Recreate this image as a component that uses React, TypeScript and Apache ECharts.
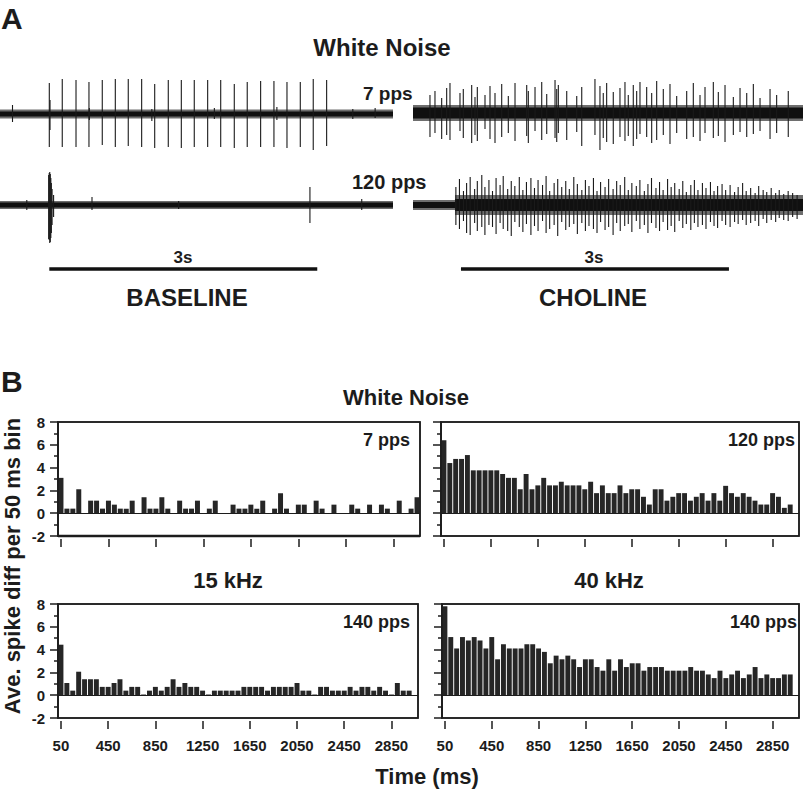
import React, { useEffect, useRef } from 'react';
import * as echarts from 'echarts';

// ---------- Panel B: histogram data (Ave. spike diff per 50 ms bin) ----------
const binLabels = [
  '50', '100', '150', '200', '250', '300', '350', '400', '450', '500',
  '550', '600', '650', '700', '750', '800', '850', '900', '950', '1000',
  '1050', '1100', '1150', '1200', '1250', '1300', '1350', '1400', '1450', '1500',
  '1550', '1600', '1650', '1700', '1750', '1800', '1850', '1900', '1950', '2000',
  '2050', '2100', '2150', '2200', '2250', '2300', '2350', '2400', '2450', '2500',
  '2550', '2600', '2650', '2700', '2750', '2800', '2850', '2900', '2950', '3000',
  '3050',
];

const whiteNoise7pps = [
  3.1, 0.4, 0.4, 2.1, 0, 1.1, 1.1, 0.4, 1.1, 0.75,
  0.4, 0.4, 1.1, 0, 1.4, 0.4, 0.4, 1.4, 0.4, 0,
  1.1, 0.4, 0.4, 1.1, 0, 0.4, 1.1, 0, 0, 0.75,
  0.4, 0.4, 0.75, 0.4, 1.1, 0, 0.4, 1.75, 0.4, 0,
  0.75, 0.75, 0, 1.1, 0.4, 0, 0.75, 0, 0, 0.75,
  0.4, 0, 0.75, 0, 0.75, 0.4, 0, 1.1, 0, 0.4,
  1.4,
];

const whiteNoise120pps = [
  6.4, 4.4, 4.76, 4.76, 5.1, 3.76, 3.76, 3.76, 3.76, 3.76,
  3.44, 3.1, 3.1, 2.1, 3.44, 2.1, 2.44, 3.1, 2.44, 2.44,
  2.76, 2.44, 2.44, 2.44, 2.1, 2.76, 1.76, 2.44, 1.76, 1.76,
  2.44, 1.76, 2.1, 2.1, 1.44, 0.76, 2.1, 2.1, 1.1, 1.44,
  1.76, 1.76, 1.1, 1.44, 1.76, 1.1, 1.76, 1.1, 2.4, 1.76,
  1.44, 1.76, 1.44, 1.1, 0.76, 0.76, 1.76, 1.44, 0.47, 0.76,
  0,
];

const tone15kHz140pps = [
  4.43, 1.07, 0.4, 2.06, 1.4, 1.4, 1.4, 0.73, 0.73, 1.07,
  1.4, 0.4, 0.73, 0.73, 0.06, 0.4, 0.73, 0.4, 0.73, 1.4,
  0.73, 1.07, 0.73, 0.73, 0.4, 0.06, 0.4, 0.4, 0.4, 0.4,
  0.4, 0.73, 0.73, 0.73, 0.73, 0.4, 0.73, 0.73, 0.73, 0.73,
  1.07, 0.4, 0.4, 0.06, 0.73, 0.73, 0.4, 0.4, 0.4, 0.73,
  0.4, 0.73, 0.73, 0.4, 0.73, 0.4, 0.06, 1.07, 0.4, 0.4,
  0,
];

const tone40kHz140pps = [
  7.8, 5.1, 4.1, 5.1, 4.8, 5.1, 4.8, 4.1, 5.1, 3.15,
  4.47, 4.1, 4.1, 4.1, 4.47, 4.47, 4.1, 3.8, 2.8, 3.47,
  3.15, 3.47, 3.15, 2.47, 3.15, 3.15, 2.47, 2.15, 3.15, 2.15,
  3.15, 2.47, 2.8, 2.8, 2.15, 2.47, 2.47, 2.47, 2.15, 2.15,
  2.15, 2.15, 2.47, 2.15, 2.15, 1.82, 1.5, 2.15, 1.5, 1.82,
  2.15, 1.5, 1.82, 2.47, 1.5, 1.82, 1.5, 1.5, 1.82, 1.82,
  0,
];

const xTickEvery = 8; // ticks at 50, 450, 850 ... 2850 ms

// ---------- Panel A: recorded traces (time ms, amplitude up, amplitude down) ----------
const baseline7Spikes = [
  [552, 31, 33], [697, 35, 33], [851, 34, 33], [996, 32, 33], [1145, 34, 31],
  [1291, 35, 33], [1436, 35, 32], [1586, 35, 33], [1732, 30, 34], [1884, 34, 33],
  [2030, 34, 34], [2175, 34, 33], [2325, 34, 33], [2471, 34, 33], [2623, 30, 34],
  [2768, 32, 33], [2918, 33, 33], [3067, 33, 33], [3213, 32, 34], [3362, 32, 33],
  [3507, 35, 36], [3657, 34, 32],
  [140, 9, 8], [560, 14, 16], [1000, 6, 6], [1700, 5, 7], [2400, 6, 5], [3100, 7, 6], [3950, 5, 5], [4200, 6, 4],
];
const baseline7Bands = [[0, 4400, 4.5, 2.6]];

const choline7Spikes = [
  [190, 18, 24], [246, 22, 20], [321, 15, 26], [377, 25, 22], [414, 30, 27],
  [526, 20, 18], [563, 24, 25], [657, 28, 30], [694, 16, 22], [720, 26, 28],
  [806, 18, 16], [862, 27, 26], [918, 20, 30], [993, 29, 24], [1067, 17, 20],
  [1142, 30, 28], [1273, 28, 23], [1291, 22, 30], [1366, 26, 18], [1441, 31, 27],
  [1497, 19, 21], [1590, 33, 25], [1609, 24, 29], [1627, 28, 20], [1721, 22, 27],
  [1833, 17, 19], [1889, 26, 33], [2037, 34, 22], [2093, 27, 37], [2130, 20, 25],
  [2168, 30, 29], [2242, 21, 31], [2317, 25, 24], [2373, 31, 28], [2410, 18, 23],
  [2466, 28, 33], [2504, 22, 26], [2541, 31, 21], [2616, 26, 24], [2672, 20, 30],
  [2728, 32, 27], [2802, 24, 22], [2877, 29, 31], [2952, 17, 20], [3064, 22, 26],
  [3138, 30, 24], [3213, 18, 28], [3269, 26, 20], [3362, 31, 25], [3418, 21, 23],
  [3493, 28, 29], [3586, 16, 22], [3661, 25, 19], [3736, 20, 24], [3810, 29, 21],
  [3885, 15, 18], [3997, 24, 26], [4071, 18, 20], [4201, 22, 24],
];
const choline7Bands = [[0, 4366, 8, 5.5]];

const baseline120Spikes = [
  [545, 30, 34], [551, 32, 35], [557, 33, 38], [563, 31, 37], [569, 27, 33], [575, 22, 28],
  [583, 16, 20], [600, 10, 12],
  [300, 5, 5], [1030, 8, 5], [2000, 4, 4], [3470, 18, 18], [4050, 6, 5],
];
const baseline120Bands = [[0, 4400, 4, 2.4]];

const choline120Spikes = [
  [480, 18, 20], [520, 26, 24], [565, 14, 16], [600, 22, 28], [640, 28, 30], [690, 16, 18],
  [720, 24, 26], [770, 30, 22], [805, 18, 30], [850, 25, 20], [890, 14, 22], [930, 27, 29],
  [975, 20, 18], [1010, 29, 24], [1060, 16, 26], [1100, 24, 31], [1140, 19, 17], [1190, 28, 22],
  [1230, 15, 27], [1270, 23, 19], [1320, 27, 30], [1360, 17, 21], [1400, 25, 26], [1450, 20, 16],
  [1490, 29, 28], [1530, 14, 24], [1580, 22, 20], [1620, 26, 31], [1665, 18, 17], [1710, 24, 25],
  [1750, 16, 22], [1800, 28, 19], [1840, 21, 29], [1890, 15, 18], [1930, 25, 26], [1970, 19, 21],
  [2020, 27, 24], [2060, 14, 28], [2100, 23, 17], [2150, 18, 25], [2190, 26, 22], [2240, 16, 30],
  [2280, 24, 18], [2320, 20, 26], [2370, 28, 21], [2410, 15, 19], [2450, 22, 27], [2500, 19, 16],
  [2540, 25, 24], [2590, 14, 20], [2630, 21, 28], [2670, 27, 18], [2720, 17, 23], [2760, 23, 26],
  [2800, 15, 17], [2850, 26, 25], [2890, 18, 21], [2930, 22, 27], [2980, 16, 16], [3020, 24, 23],
  [3060, 13, 19], [3110, 20, 25], [3150, 25, 18], [3190, 15, 22], [3240, 22, 20], [3280, 17, 24],
  [3330, 23, 17], [3370, 14, 21], [3410, 19, 23], [3460, 21, 16], [3500, 15, 20], [3550, 20, 22],
  [3600, 13, 17], [3640, 18, 19], [3690, 22, 15], [3730, 14, 20], [3780, 17, 18], [3830, 12, 16],
  [3870, 19, 21], [3920, 15, 14], [3960, 13, 18], [4010, 17, 15], [4060, 12, 17], [4100, 15, 13],
  [4150, 11, 15], [4200, 14, 16], [4250, 12, 12], [4300, 10, 14],
];
const choline120Bands = [[0, 470, 5, 3], [470, 4366, 10, 6]];

// 3 s scale bars (start, end in ms of the trace time base)
const baselineScaleBar = [[552, -64], [3552, -64]];
const cholineScaleBar = [[537, -64], [3537, -64]];

const FONT = '"Liberation Sans", Arial, Helvetica, sans-serif';
const INK = '#1c1c1c';

function txt(text: string, x: number, y: number, size: number, align: string, extra: any = {}) {
  return {
    type: 'text',
    x,
    y,
    ...extra,
    style: {
      text,
      fill: INK,
      font: `bold ${size}px ${FONT}`,
      align,
      verticalAlign: 'middle',
      textAlign: align,
      textVerticalAlign: 'middle',
    },
  };
}

export default function App() {
  const ref = useRef<HTMLDivElement>(null);

  useEffect(() => {
    if (!ref.current) return;
    const chart = echarts.init(ref.current, undefined, { renderer: 'svg' });

    const hist = [
      { data: whiteNoise7pps, left: 58, top: 422, width: 362, height: 114, yl: true, xl: false, thickBottom: true },
      { data: whiteNoise120pps, left: 441, top: 422, width: 358, height: 114, yl: false, xl: false, thickBottom: false },
      { data: tone15kHz140pps, left: 58, top: 604, width: 360, height: 114, yl: true, xl: true, thickBottom: false },
      { data: tone40kHz140pps, left: 442, top: 604, width: 357, height: 114, yl: false, xl: true, thickBottom: false },
    ];
    const traces = [
      { spikes: baseline7Spikes, bands: baseline7Bands, left: 0, top: 74, width: 393, xmax: 4400, bar: null },
      { spikes: choline7Spikes, bands: choline7Bands, left: 413, top: 73, width: 390, xmax: 4366, bar: null },
      { spikes: baseline120Spikes, bands: baseline120Bands, left: 0, top: 165, width: 393, xmax: 4400, bar: baselineScaleBar },
      { spikes: choline120Spikes, bands: choline120Bands, left: 413, top: 165, width: 390, xmax: 4366, bar: cholineScaleBar },
    ];

    const grid: any[] = [];
    const xAxis: any[] = [];
    const yAxis: any[] = [];
    const series: any[] = [];
    const frames: any[] = [];

    const tickFn = (idx: number) => idx % xTickEvery === 0;

    hist.forEach((h, i) => {
      grid.push({
        left: h.left, top: h.top, width: h.width, height: h.height,
        containLabel: false, outerBoundsMode: 'none',
        show: true, borderColor: INK, borderWidth: 1.5, backgroundColor: 'rgba(0,0,0,0)',
      });
      frames.push({
        type: 'rect', silent: true, z: 50,
        shape: { x: h.left, y: h.top, width: h.width, height: h.height },
        style: { fill: 'none', stroke: INK, lineWidth: 1.5 },
      });
      if (h.thickBottom) {
        frames.push({
          type: 'line', silent: true, z: 50,
          shape: { x1: h.left, y1: h.top + h.height, x2: h.left + h.width, y2: h.top + h.height },
          style: { stroke: INK, lineWidth: 2.6 },
        });
      }
      xAxis.push({
        type: 'category', gridIndex: i, data: binLabels, offset: 3, position: 'bottom',
        axisLine: { show: false, onZero: false },
        axisTick: { show: true, alignWithLabel: true, interval: tickFn, length: 8, lineStyle: { color: INK, width: 1.5 } },
        axisLabel: {
          show: h.xl, interval: tickFn, margin: 17, fontSize: 15, fontWeight: 'bold',
          color: INK, fontFamily: FONT,
        },
        splitLine: { show: false },
      });
      yAxis.push({
        type: 'value', gridIndex: i, min: -2, max: 8, interval: 2,
        axisLine: { show: true, onZero: false, lineStyle: { color: INK, width: 1.5 } },
        axisTick: { show: true, length: 8, lineStyle: { color: INK, width: 1.5 } },
        minorTick: { show: true, splitNumber: 2, length: 4, lineStyle: { color: INK, width: 1.5 } },
        splitLine: { show: false },
        minorSplitLine: { show: false },
        axisLabel: {
          show: h.yl, margin: 13, fontSize: 15, fontWeight: 'bold', color: INK, fontFamily: FONT,
        },
      });
      series.push({
        type: 'bar', xAxisIndex: i, yAxisIndex: i, data: h.data,
        barCategoryGap: '16%',
        itemStyle: { color: '#262626' },
        markLine: {
          silent: true, symbol: ['none', 'none'], label: { show: false },
          lineStyle: { color: INK, width: 1.2, type: 'solid' },
          data: [{ yAxis: 0 }],
        },
      });
    });

    traces.forEach((t, j) => {
      const gi = hist.length + j;
      grid.push({ left: t.left, top: t.top, width: t.width, height: 80, show: false, containLabel: false, outerBoundsMode: 'none' });
      xAxis.push({ type: 'value', gridIndex: gi, min: 0, max: t.xmax, show: false });
      yAxis.push({ type: 'value', gridIndex: gi, min: -40, max: 40, show: false });
      series.push({
        type: 'custom', xAxisIndex: gi, yAxisIndex: gi, data: t.bands, clip: false,
        renderItem: (params: any, api: any) => {
          const s = api.value(0), e = api.value(1), ho = api.value(2), hi = api.value(3);
          const a = api.coord([s, ho]);
          const b = api.coord([e, -ho]);
          const c = api.coord([s, hi]);
          const d = api.coord([e, -hi]);
          return {
            type: 'group',
            children: [
              { type: 'rect', shape: { x: a[0], y: a[1], width: b[0] - a[0], height: b[1] - a[1] }, style: { fill: '#6e6e6e' } },
              { type: 'rect', shape: { x: c[0], y: c[1], width: d[0] - c[0], height: d[1] - c[1] }, style: { fill: '#101010' } },
            ],
          };
        },
      });
      series.push({
        type: 'custom', xAxisIndex: gi, yAxisIndex: gi, data: t.spikes, clip: false,
        renderItem: (params: any, api: any) => {
          const tm = api.value(0), up = api.value(1), dn = api.value(2);
          const p1 = api.coord([tm, up]);
          const p2 = api.coord([tm, -dn]);
          return {
            type: 'line',
            shape: { x1: p1[0], y1: p1[1], x2: p2[0], y2: p2[1] },
            style: { stroke: '#1a1a1a', lineWidth: 1.1 },
          };
        },
      });
      if (t.bar) {
        series.push({
          type: 'line', xAxisIndex: gi, yAxisIndex: gi, data: t.bar, clip: false,
          symbol: 'none', lineStyle: { color: '#111', width: 3.5 }, silent: true,
        });
      }
    });

    const graphic: any[] = [
      ...frames,
      txt('A', 1, 18, 30, 'left'),
      txt('White Noise', 382, 47, 24, 'center'),
      txt('7 pps', 363, 93, 19, 'left'),
      txt('120 pps', 352, 182, 20, 'left'),
      txt('3s', 183, 257, 17, 'center'),
      txt('3s', 594, 257, 17, 'center'),
      txt('BASELINE', 187, 297, 24, 'center'),
      txt('CHOLINE', 593, 297, 24, 'center'),
      txt('B', 1, 381, 30, 'left'),
      txt('White Noise', 406, 397, 22, 'center'),
      txt('7 pps', 410, 440, 18, 'right'),
      txt('120 pps', 795, 440, 18, 'right'),
      txt('15 kHz', 228, 580, 22, 'center'),
      txt('40 kHz', 609, 580, 22, 'center'),
      txt('140 pps', 410, 622, 18, 'right'),
      txt('140 pps', 797, 622, 18, 'right'),
      txt('Time (ms)', 427, 776, 22, 'center'),
      txt('Ave. spike diff per 50 ms bin', 12, 566, 22, 'center', { rotation: Math.PI / 2 }),
    ];

    chart.setOption({
      animation: false,
      backgroundColor: '#ffffff',
      grid, xAxis, yAxis, series, graphic,
    });

    return () => chart.dispose();
  }, []);

  return (
    <div
      ref={ref}
      style={{ position: 'absolute', left: 0, top: 0, width: 805, height: 793, background: '#fff' }}
    />
  );
}
